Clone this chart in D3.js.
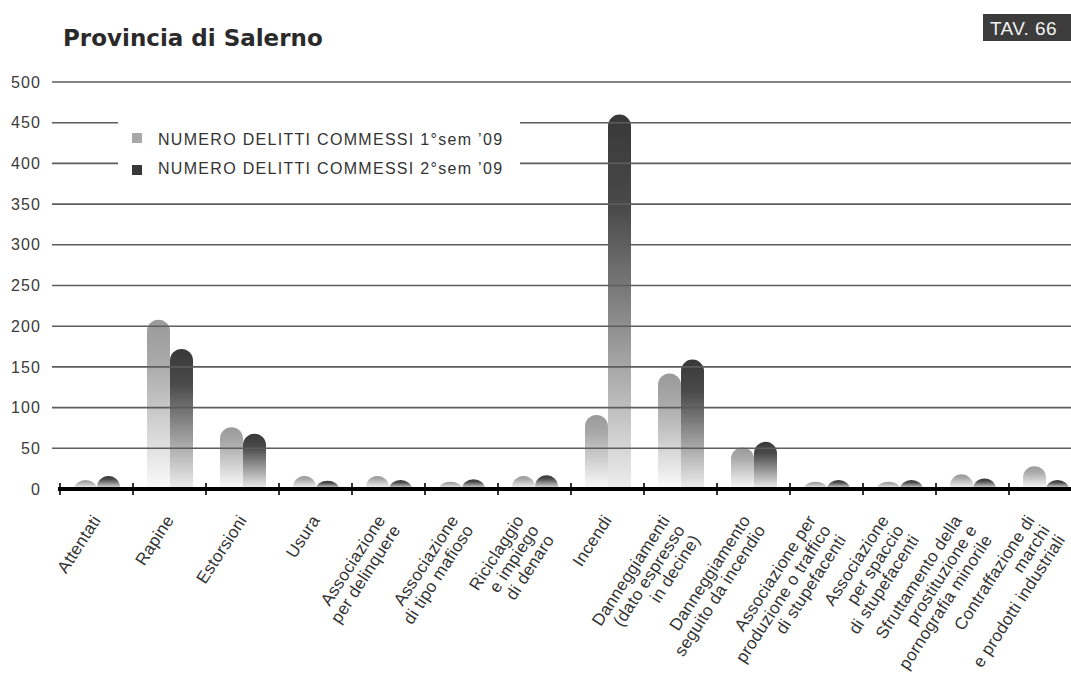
<!DOCTYPE html>
<html>
<head>
<meta charset="utf-8">
<script src="https://cdn.jsdelivr.net/npm/d3@7"></script>
<style>
    body { margin: 0; background: #fff; }
    text { font-family: "Liberation Sans", Arial, sans-serif; }
</style>
</head>
<body>
<div id="chart"></div>
<script>
const categories = [
    ["Attentati"],
    ["Rapine"],
    ["Estorsioni"],
    ["Usura"],
    ["Associazione", "per delinquere"],
    ["Associazione", "di tipo mafioso"],
    ["Riciclaggio", "e impiego", "di denaro"],
    ["Incendi"],
    ["Danneggiamenti", "(dato espresso", "in decine)"],
    ["Danneggiamento", "seguito da incendio"],
    ["Associazione per", "produzione o traffico", "di stupefacenti"],
    ["Associazione", "per spaccio", "di stupefacenti"],
    ["Sfruttamento della", "prostituzione e", "pornografia minorile"],
    ["Contraffazione di", "marchi", "e prodotti industriali"]
];
const series1 = [11, 208, 76, 16, 16, 9, 16, 91, 142, 51, 9, 9, 18, 28];
const series2 = [16, 172, 68, 10, 11, 12, 17, 460, 159, 58, 11, 11, 13, 11];
const seriesNames = ["NUMERO DELITTI COMMESSI 1°sem ’09", "NUMERO DELITTI COMMESSI 2°sem ’09"];
const yTicks = [0, 50, 100, 150, 200, 250, 300, 350, 400, 450, 500];

const W = 1071, H = 673;
const svg = d3.select("#chart").append("svg")
    .attr("width", W)
    .attr("height", H);

const keys = categories.map(c => c.join(" "));
const x = d3.scaleBand().domain(keys).range([60, 1082]);
const xs = d3.scaleBand().domain([0, 1]).range([14, 60]);
const y = d3.scaleLinear().domain([0, 500]).range([489, 82]);

// gradients for the two series
const defs = svg.append("defs");
const grads = [
    {id: "g0", top: "#9a9a9a", mid: "#a9a9a9", bottom: "#fbfbfb"},
    {id: "g1", top: "#383838", mid: "#4a4a4a", bottom: "#eeeeee"}
];
grads.forEach(g => {
    const lg = defs.append("linearGradient")
        .attr("id", g.id)
        .attr("x1", 0).attr("y1", 0).attr("x2", 0).attr("y2", 1);
    lg.append("stop").attr("offset", "0%").attr("stop-color", g.top);
    lg.append("stop").attr("offset", "25%").attr("stop-color", g.mid);
    lg.append("stop").attr("offset", "100%").attr("stop-color", g.bottom);
});

// title and plate
svg.append("text")
    .attr("x", 63).attr("y", 46)
    .style("font-family", "'DejaVu Sans', sans-serif")
    .style("font-weight", "bold")
    .style("font-size", "23px")
    .style("fill", "#2a2a2a")
    .text("Provincia di Salerno");

svg.append("rect")
    .attr("x", 983).attr("y", 14)
    .attr("width", 88).attr("height", 27)
    .attr("fill", "#3c3c3c");
svg.append("text")
    .attr("x", 990).attr("y", 34.5)
    .style("font-size", "19px")
    .style("letter-spacing", "0.4px")
    .style("fill", "#f2f2f2")
    .text("TAV. 66");

// bars
const barData = [];
categories.forEach((c, i) => {
    barData.push({key: keys[i], s: 0, value: series1[i]});
    barData.push({key: keys[i], s: 1, value: series2[i]});
});

function barPath(d) {
    const x0 = x(d.key) + xs(d.s);
    const w = xs.bandwidth();
    const r = w / 2;
    const base = y(0);
    const top = y(d.value);
    const h = base - top;
    if (h <= r) {
        return `M${x0},${base} A${r},${h} 0 0 1 ${x0 + w},${base} Z`;
    }
    return `M${x0},${base} L${x0},${top + r} A${r},${r} 0 0 1 ${x0 + w},${top + r} L${x0 + w},${base} Z`;
}

svg.append("g")
    .selectAll("path")
    .data(barData)
    .join("path")
    .attr("d", barPath)
    .attr("fill", d => `url(#g${d.s})`);

// grid lines on top of the bars
svg.append("g")
    .selectAll("line")
    .data(yTicks.filter(t => t > 0))
    .join("line")
    .attr("x1", 52).attr("x2", W)
    .attr("y1", d => y(d)).attr("y2", d => y(d))
    .attr("stroke", "#5c5c5c")
    .attr("stroke-width", 1.6);

// y labels
svg.append("g")
    .selectAll("text")
    .data(yTicks)
    .join("text")
    .attr("x", 41)
    .attr("y", d => y(d))
    .attr("dy", "0.35em")
    .attr("text-anchor", "end")
    .style("font-size", "16px")
    .style("letter-spacing", "1.1px")
    .style("fill", "#3a3a3a")
    .text(d => d);

// baseline and ticks
svg.append("line")
    .attr("x1", 58).attr("x2", W)
    .attr("y1", y(0)).attr("y2", y(0))
    .attr("stroke", "#000")
    .attr("stroke-width", 4);
svg.append("g")
    .selectAll("line")
    .data(keys)
    .join("line")
    .attr("x1", d => x(d)).attr("x2", d => x(d))
    .attr("y1", y(0) - 6).attr("y2", y(0) + 6)
    .attr("stroke", "#000")
    .attr("stroke-width", 1.6);

// category labels, rotated
const angle = -57;
const lineH = 18;
const labels = svg.append("g")
    .selectAll("text")
    .data(categories)
    .join("text")
    .attr("transform", (d, i) => {
        const cx = x(keys[i]) + x.bandwidth() / 2 + 5 - (d.length - 1) * 7.5;
        return `translate(${cx},520) rotate(${angle})`;
    })
    .attr("text-anchor", "end")
    .style("font-size", "17px")
    .style("letter-spacing", "0.3px")
    .style("fill", "#333");
labels.selectAll("tspan")
    .data(d => d)
    .join("tspan")
    .attr("x", 0)
    .attr("y", (d, i) => i * lineH)
    .text(d => d);

// legend
const legend = svg.append("g");
legend.append("rect")
    .attr("x", 118).attr("y", 122)
    .attr("width", 402).attr("height", 62)
    .attr("fill", "#fff");
const legendColors = ["#a8a8a8", "#383838"];
seriesNames.forEach((name, i) => {
    legend.append("rect")
        .attr("x", 132).attr("y", 133 + i * 32)
        .attr("width", 10).attr("height", 10)
        .attr("fill", legendColors[i]);
    legend.append("text")
        .attr("x", 158).attr("y", 144.5 + i * 29)
        .style("font-size", "16px")
        .style("letter-spacing", "1.3px")
        .style("fill", "#333")
        .text(name);
});
</script>
</body>
</html>
